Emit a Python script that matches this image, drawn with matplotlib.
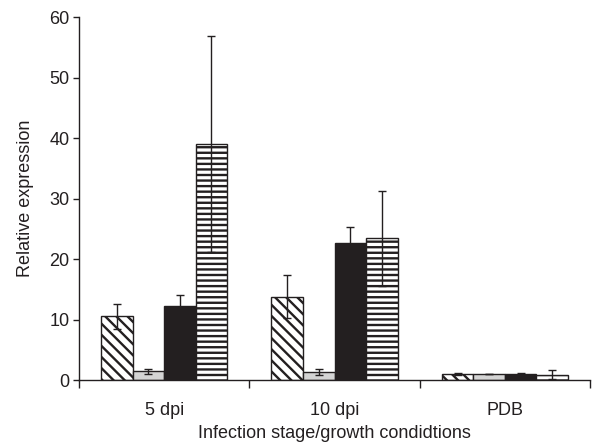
import matplotlib
matplotlib.use("Agg")
import matplotlib.pyplot as plt
import numpy as np

plt.rcParams['font.family'] = ['Liberation Sans', 'DejaVu Sans']
plt.rcParams['hatch.linewidth'] = 1.7

categories = ["5 dpi", "10 dpi", "PDB"]
s1 = [10.5, 13.8, 1.0]
s1_err = [2.1, 3.6, 0.1]
s2 = [1.45, 1.3, 1.0]
s2_err = [0.45, 0.5, 0.05]
s3 = [12.3, 22.6, 1.0]
s3_err = [1.8, 2.7, 0.1]
s4 = [39.0, 23.4, 0.9]
s4_err = [17.8, 7.9, 0.8]

fig = plt.figure(figsize=(5.99, 4.44), dpi=100)
ax = fig.add_axes([0.1319, 0.1441, 0.8531, 0.8176])

x = np.arange(len(categories))
w = 0.185
styles = [
    dict(color='white', hatch='\\\\\\'),
    dict(color='#d4d4d4', hatch=None),
    dict(color='#231f20', hatch=None),
    dict(color='white', hatch='---'),
]
series = [(s1, s1_err), (s2, s2_err), (s3, s3_err), (s4, s4_err)]
for i, ((vals, errs), st) in enumerate(zip(series, styles)):
    pos = x + (i - 1.5) * w
    ax.bar(pos, vals, width=w, color=st['color'], hatch=st['hatch'],
           edgecolor='#231f20', linewidth=1.0, zorder=2)
    ax.errorbar(pos, vals, yerr=errs, fmt='none', ecolor='#231f20',
                elinewidth=1.0, capsize=3, capthick=1.0, zorder=3)

ax.set_xlim(-0.5, 2.5)
ax.set_ylim(0, 60)
ax.set_yticks(range(0, 61, 10))
ax.set_xticks([-0.5, 0.5, 1.5, 2.5])
ax.set_xticklabels([])
ax.set_xticks(x, minor=True)
ax.set_xticklabels(categories, minor=True)
ax.tick_params(axis='x', which='minor', length=0, pad=16, labelsize=13)
ax.tick_params(axis='x', which='major', length=6, width=1.0, direction='out', colors='#231f20')
ax.tick_params(axis='y', length=4, width=1.0, labelsize=13, colors='#231f20', pad=3)
for lab in ax.get_yticklabels() + ax.get_xticklabels(minor=True):
    lab.set_color('#231f20')

for sp in ['top', 'right']:
    ax.spines[sp].set_visible(False)
for sp in ['left', 'bottom']:
    ax.spines[sp].set_linewidth(1.0)
    ax.spines[sp].set_color('#231f20')

ax.set_xlabel("Infection stage/growth condidtions", fontsize=13, color='#231f20', labelpad=4)
ax.set_ylabel("Relative expression", fontsize=13, color='#231f20', labelpad=11)

fig.savefig("out.png", dpi=100)
